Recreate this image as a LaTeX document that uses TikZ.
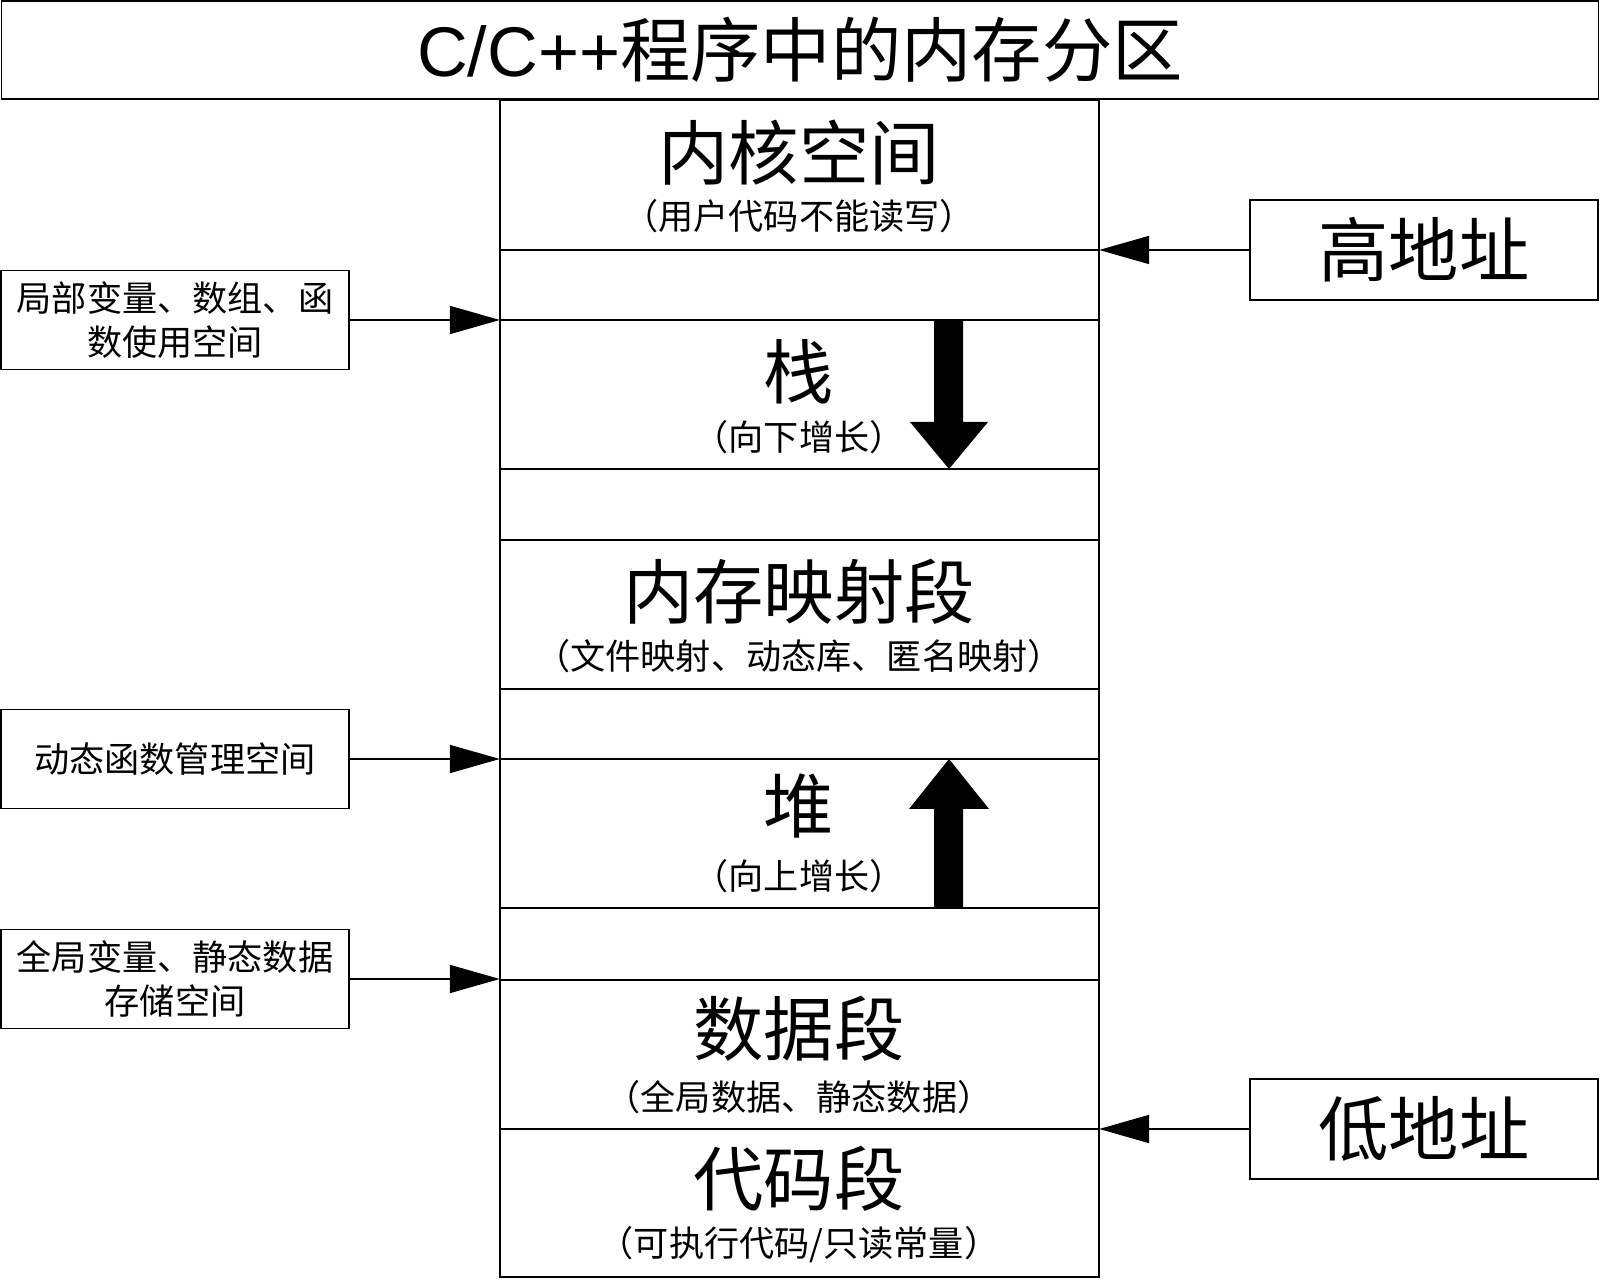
\documentclass[tikz,border=0pt]{standalone}
\usepackage{fontspec}
\setmainfont{Liberation Sans}
\newfontfamily\cjk{Noto Sans CJK SC}
\usetikzlibrary{arrows.meta}
\begin{document}
\begin{tikzpicture}[x=0.01cm,y=-0.01cm,
  every node/.style={inner sep=0pt, outer sep=0pt},
  seg/.style={draw, line width=0.5pt, minimum width=5.99cm},
  big/.style={font=\cjk\fontsize{20}{24}\selectfont},
  small/.style={font=\cjk\fontsize{10}{12}\selectfont},
  side/.style={draw, line width=0.5pt, minimum width=3.48cm, minimum height=0.99cm, align=center, font=\cjk\fontsize{10}{12.5}\selectfont},
  addr/.style={draw, line width=0.5pt, minimum width=3.48cm, minimum height=1.0cm, font=\cjk\fontsize{20}{24}\selectfont},
  arr/.style={line width=0.5pt, -{Triangle[length=0.5cm,width=0.28cm]}},
  blk/.style={fill=black}
]
\useasboundingbox (0,0) rectangle (1600,1280);

% title
\node[draw, line width=0.5pt, minimum width=15.96cm, minimum height=0.98cm, font=\fontsize{20}{24}\selectfont] (title) at (800,50) {C/C++{\cjk 程序中的内存分区}};

% column segments
\node[seg, minimum height=1.50cm] (kernel) at (799.5,175) {};
\node[seg, minimum height=0.70cm] (gap1) at (799.5,285) {};
\node[seg, minimum height=1.49cm] (stack) at (799.5,394.5) {};
\node[seg, minimum height=0.71cm] (gap2) at (799.5,504.5) {};
\node[seg, minimum height=1.49cm] (mmap) at (799.5,614.5) {};
\node[seg, minimum height=0.70cm] (gap3) at (799.5,724) {};
\node[seg, minimum height=1.49cm] (heap) at (799.5,833.5) {};
\node[seg, minimum height=0.72cm] (gap4) at (799.5,944) {};
\node[seg, minimum height=1.49cm] (data) at (799.5,1054.5) {};
\node[seg, minimum height=1.48cm] (code) at (799.5,1203) {};

% labels
\node[big] (kt) at (799,153) {内核空间};
\node[small] (ks) at (799,216) {（用户代码不能读写）};
\node[big] (st) at (799,372) {栈};
\node[small] (ss) at (799,437) {（向下增长）};
\node[big] (mt) at (799,592) {内存映射段};
\node[small] (ms) at (799,656) {（文件映射、动态库、匿名映射）};
\node[big] (ht) at (799,806) {堆};
\node[small] (hs) at (799,876) {（向上增长）};
\node[big] (dt) at (799,1029) {数据段};
\node[small] (ds) at (799,1097) {（全局数据、静态数据）};
\node[big] (ct) at (799,1179) {代码段};
\node[small] (cs) at (799,1245) {（可执行代码/只读常量）};

% growth arrows
\fill[blk] (934,320) -- (963,320) -- (963,422) -- (988,422) -- (949,469) -- (910,422) -- (934,422) -- cycle;
\fill[blk] (934,908) -- (963,908) -- (963,809) -- (989,809) -- (949,759) -- (909,809) -- (934,809) -- cycle;

% side boxes
\node[side] (lb1) at (175,320) {局部变量、数组、函\\数使用空间};
\node[side] (lb2) at (175,759) {动态函数管理空间};
\node[side] (lb3) at (175,979) {全局变量、静态数据\\存储空间};
\node[addr] (hi) at (1424,250) {高地址};
\node[addr] (lo) at (1424,1129) {低地址};

% connectors
\draw[arr] (lb1.east) -- (lb1.east -| stack.west);
\draw[arr] (lb2.east) -- (lb2.east -| heap.west);
\draw[arr] (lb3.east) -- (lb3.east -| data.west);
\draw[arr] (hi.west) -- (hi.west -| gap1.east);
\draw[arr] (lo.west) -- (lo.west -| code.east);
\end{tikzpicture}
\end{document}
